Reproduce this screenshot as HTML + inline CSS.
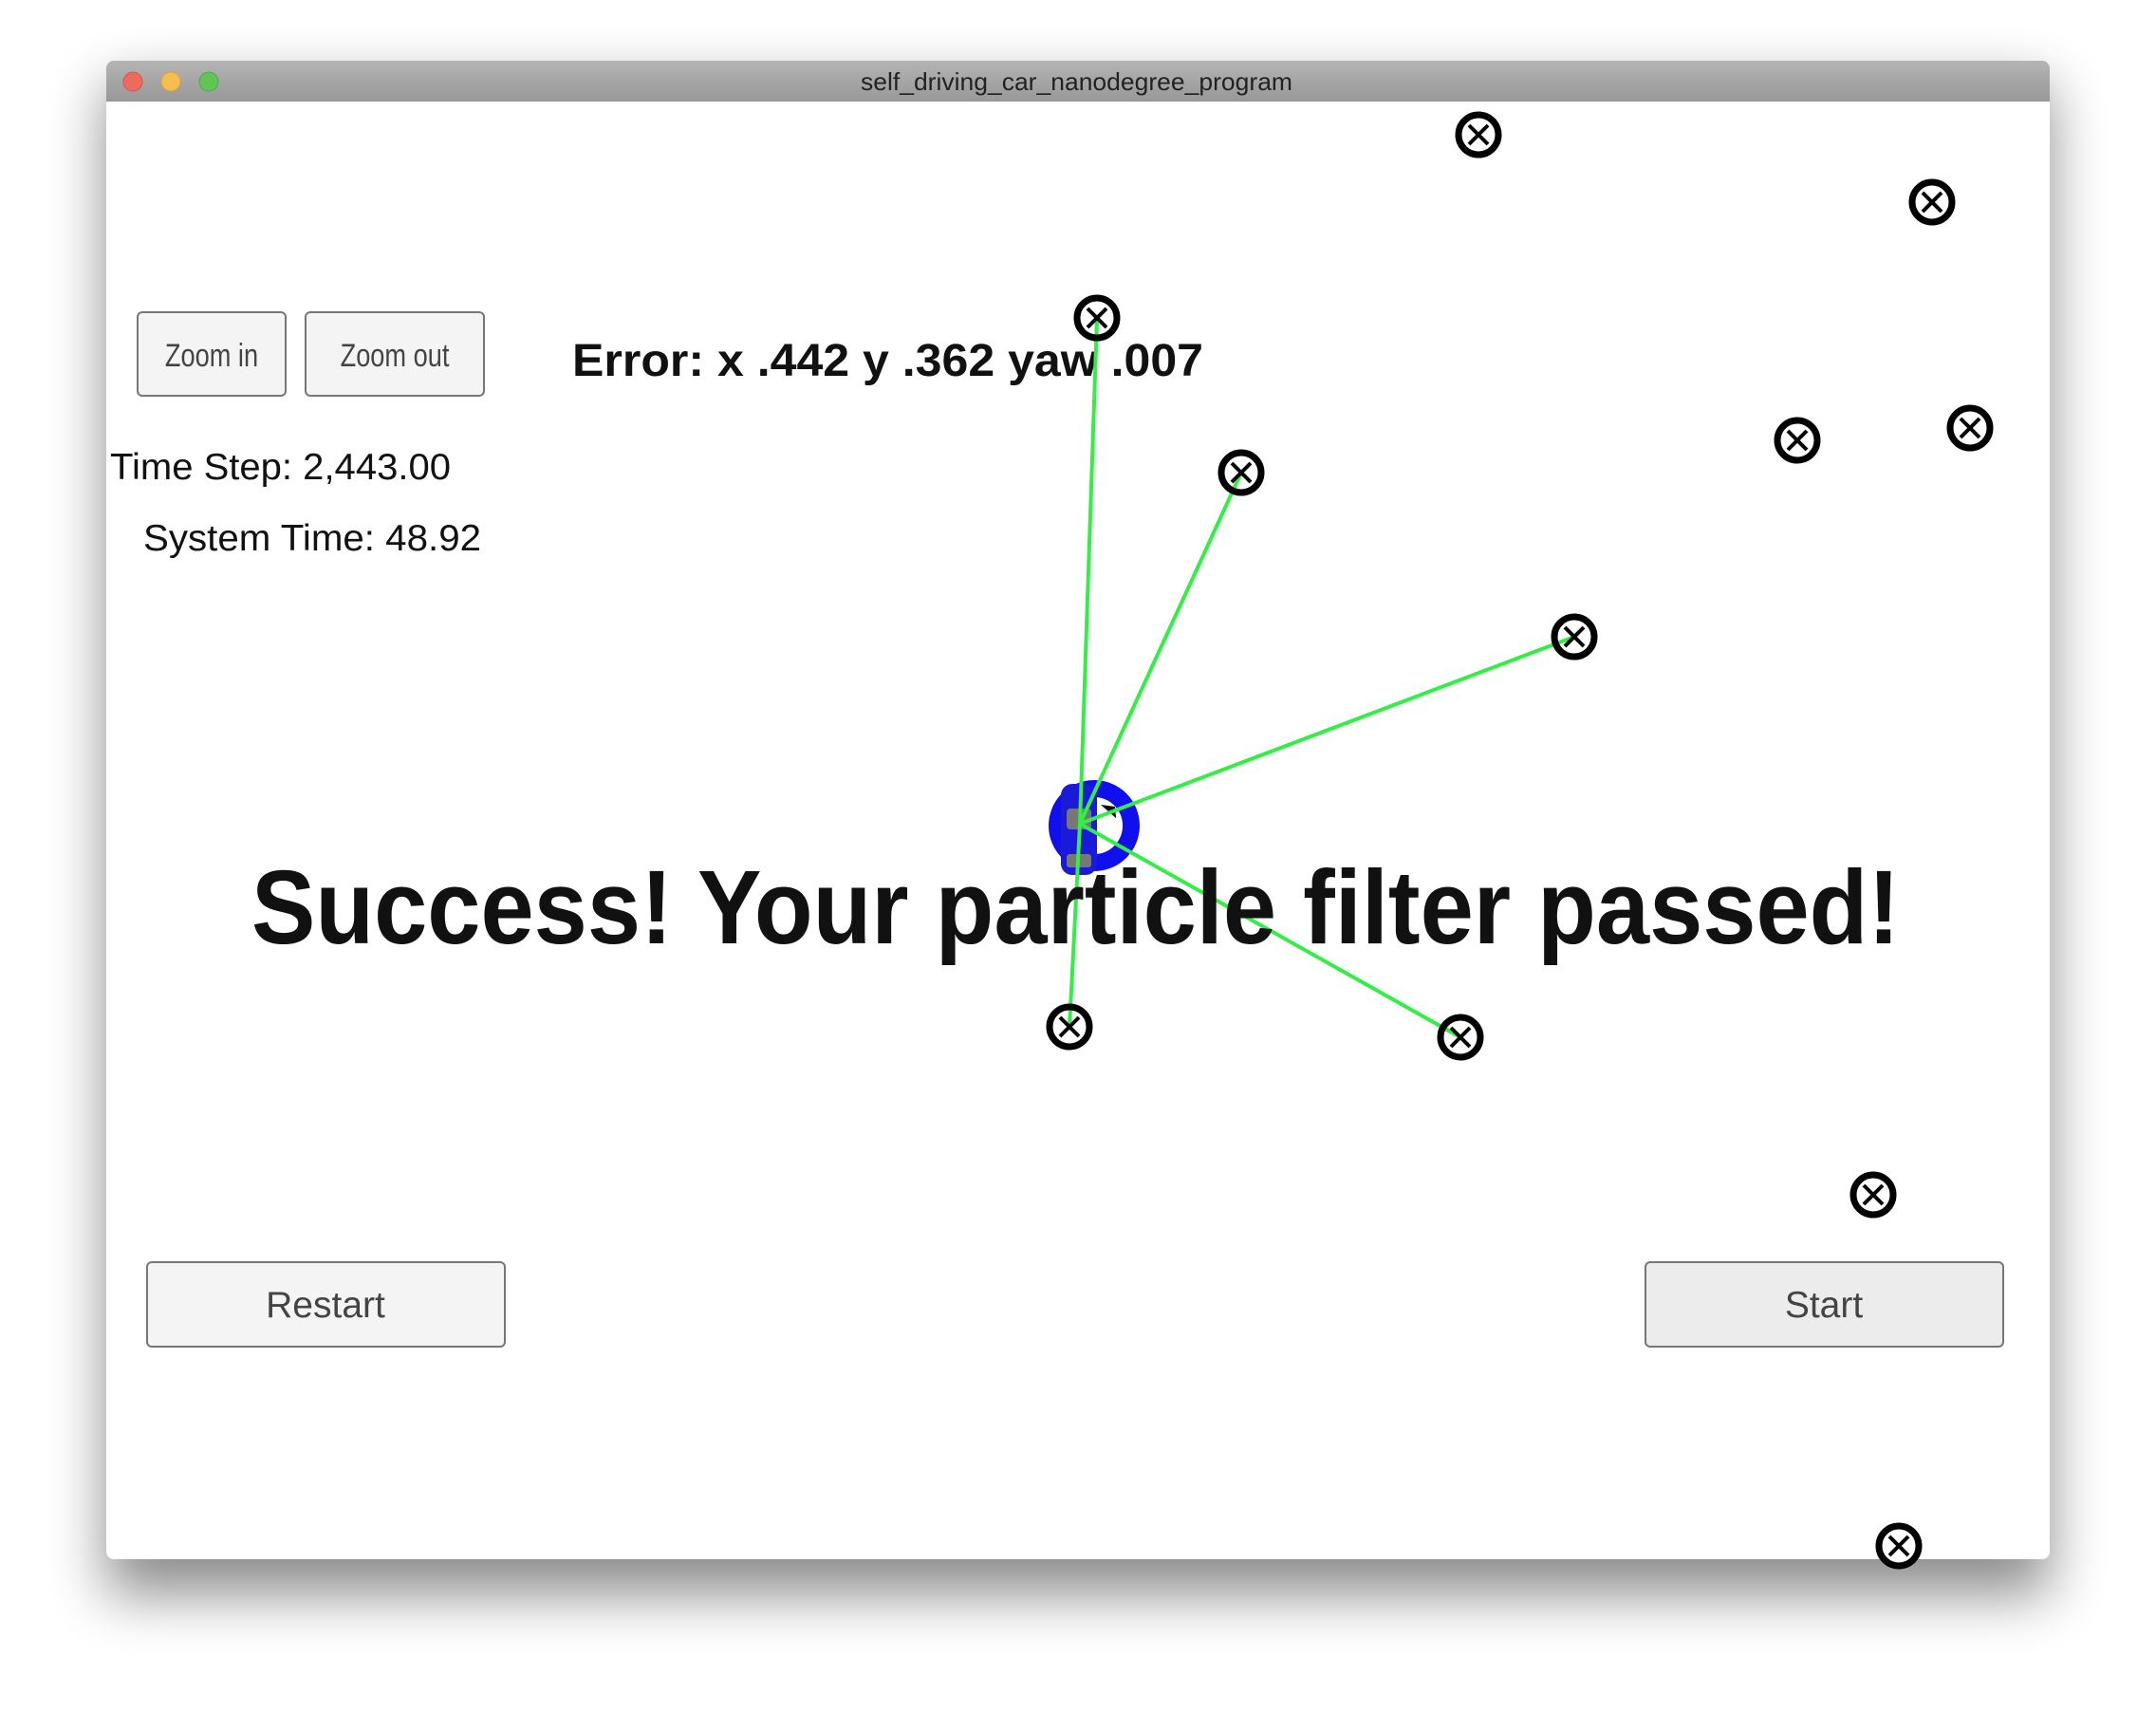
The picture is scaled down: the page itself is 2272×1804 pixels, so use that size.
<!DOCTYPE html>
<html><head><style>
html,body{margin:0;padding:0;background:#fff;}
svg{display:block;}
text{font-family:"Liberation Sans",sans-serif;}
</style></head><body>
<svg width="2272" height="1804" viewBox="0 0 2272 1804" xmlns="http://www.w3.org/2000/svg">
<defs>
<filter id="sh" x="-10%" y="-10%" width="120%" height="130%">
<feGaussianBlur stdDeviation="30"/>
</filter>
<linearGradient id="tb" x1="0" y1="0" x2="0" y2="1">
<stop offset="0" stop-color="#b4b4b4"/><stop offset="1" stop-color="#989898"/>
</linearGradient>
</defs>
<rect x="0" y="0" width="2272" height="1804" fill="#fff"/>
<rect x="112" y="90" width="2048" height="1590" fill="#000" opacity="0.45" filter="url(#sh)"/>
<rect x="112" y="64" width="2048" height="1579" fill="#fff" rx="8"/>
<path d="M112 107 V72 a8 8 0 0 1 8 -8 H2152 a8 8 0 0 1 8 8 V107 Z" fill="url(#tb)"/>
<circle cx="140" cy="86" r="10" fill="#ee6a5e" stroke="#d2574c"/>
<circle cx="180" cy="86" r="10" fill="#f5bf4f" stroke="#d9a23a"/>
<circle cx="220" cy="86" r="10" fill="#61c554" stroke="#4ea845"/>
<text x="907" y="95" font-size="26" fill="#222" textLength="455" lengthAdjust="spacingAndGlyphs">self_driving_car_nanodegree_program</text>

<rect x="145" y="329" width="156" height="88" rx="5" fill="#f4f4f4" stroke="#777" stroke-width="2"/>
<text x="223" y="386" font-size="34" text-anchor="middle" fill="#444" transform="translate(223 0) scale(0.8 1) translate(-223 0)">Zoom in</text>
<rect x="322" y="329" width="188" height="88" rx="5" fill="#f4f4f4" stroke="#777" stroke-width="2"/>
<text x="416" y="386" font-size="34" text-anchor="middle" fill="#444" transform="translate(416 0) scale(0.8 1) translate(-416 0)">Zoom out</text>

<text x="116" y="505" font-size="39" fill="#111" textLength="359" lengthAdjust="spacingAndGlyphs">Time Step: 2,443.00</text>
<text x="151" y="580" font-size="39" fill="#111" textLength="356" lengthAdjust="spacingAndGlyphs">System Time: 48.92</text>
<text x="603" y="396" font-size="48" font-weight="bold" fill="#111" textLength="665" lengthAdjust="spacingAndGlyphs">Error: x .442 y .362 yaw .007</text>

<circle cx="1153" cy="870" r="39" fill="none" stroke="#1010ee" stroke-width="18"/>
<rect x="1118" y="826" width="38" height="96" rx="12" fill="#1a1ad8"/>
<rect x="1124" y="852" width="26" height="22" rx="4" fill="#777"/>
<rect x="1124" y="900" width="26" height="14" rx="3" fill="#777"/>
<polygon points="1160,848 1175,850 1176,862" fill="#000"/>
<g stroke="#33ee44" stroke-width="4">
<line x1="1138" y1="868" x2="1156" y2="335"/>
<line x1="1138" y1="868" x2="1308" y2="498"/>
<line x1="1138" y1="868" x2="1659" y2="671"/>
<line x1="1138" y1="868" x2="1127" y2="1082"/>
<line x1="1138" y1="868" x2="1539" y2="1093"/>
</g>

<g stroke="#000" fill="#fff">
<g stroke-width="7">
<circle cx="1558" cy="142" r="21"/><circle cx="2036" cy="213" r="21"/><circle cx="1156" cy="335" r="21" fill="none"/>
<circle cx="1308" cy="498" r="21" fill="none"/><circle cx="1894" cy="464" r="21"/><circle cx="2076" cy="451" r="21"/>
<circle cx="1659" cy="671" r="21" fill="none"/><circle cx="1127" cy="1082" r="21" fill="none"/><circle cx="1539" cy="1093" r="21" fill="none"/>
<circle cx="1974" cy="1259" r="21"/><circle cx="2001" cy="1629" r="21"/>
</g>
<g stroke-width="4">
<path d="M1548 132l20 20M1568 132l-20 20 M2026 203l20 20M2046 203l-20 20 M1146 325l20 20M1166 325l-20 20 M1298 488l20 20M1318 488l-20 20 M1884 454l20 20M1904 454l-20 20 M2066 441l20 20M2086 441l-20 20 M1649 661l20 20M1669 661l-20 20 M1117 1072l20 20M1137 1072l-20 20 M1529 1083l20 20M1549 1083l-20 20 M1964 1249l20 20M1984 1249l-20 20 M1991 1619l20 20M2011 1619l-20 20"/>
</g>
</g>

<text x="265" y="994" font-size="110" font-weight="bold" fill="#111" textLength="1737" lengthAdjust="spacingAndGlyphs">Success! Your particle filter passed!</text>

<rect x="155" y="1330" width="377" height="89" rx="5" fill="#f4f4f4" stroke="#777" stroke-width="2"/>
<text x="343" y="1388" font-size="39" text-anchor="middle" fill="#444">Restart</text>
<rect x="1734" y="1330" width="377" height="89" rx="5" fill="#ececec" stroke="#777" stroke-width="2"/>
<text x="1922" y="1388" font-size="39" text-anchor="middle" fill="#444">Start</text>
</svg>
</body></html>
